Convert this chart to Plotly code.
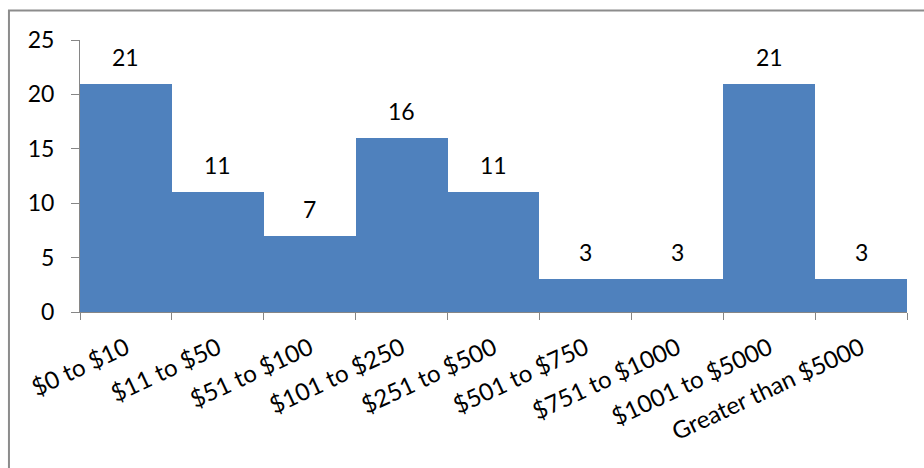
import plotly.graph_objects as go

categories = ["$0 to $10", "$11 to $50", "$51 to $100", "$101 to $250", "$251 to $500",
              "$501 to $750", "$751 to $1000", "$1001 to $5000", "Greater than $5000"]
counts = [21, 11, 7, 16, 11, 3, 3, 21, 3]
y_ticks = [0, 5, 10, 15, 20, 25]

font_family = "Lato, Open Sans, sans-serif"
axis_color = "#868686"
fs = 23

fig = go.Figure()
fig.add_trace(go.Bar(
    x=categories, y=counts,
    marker=dict(color="#4F81BD", line=dict(width=0)),
    hoverinfo="x+y",
))

for c, v in zip(categories, counts):
    fig.add_annotation(x=c, y=v, text=str(v), showarrow=False,
                       xref="x", yref="y", yanchor="bottom", yshift=11,
                       font=dict(family=font_family, size=fs, color="#000000"))

fig.update_layout(
    width=924, height=468,
    margin=dict(l=80, r=17, t=40, b=156),
    paper_bgcolor="white", plot_bgcolor="white",
    bargap=0,
    showlegend=False,
    font=dict(family=font_family, size=fs, color="#000000"),
    xaxis=dict(
        type="category",
        showgrid=False, zeroline=False,
        showline=True, linecolor=axis_color, linewidth=1,
        ticks="outside", tickson="boundaries", ticklen=7, tickcolor=axis_color,
        tickangle=-25,
        ticklabelstandoff=12,
        tickfont=dict(family=font_family, size=24, color="#000000"),
    ),
    yaxis=dict(
        range=[0, 25], tickvals=y_ticks,
        showgrid=False, zeroline=False,
        showline=True, linecolor=axis_color, linewidth=1,
        ticks="outside", ticklen=8, tickcolor=axis_color,
        ticklabelstandoff=12,
        tickfont=dict(family=font_family, size=fs, color="#000000"),
    ),
    shapes=[dict(type="rect", xref="paper", yref="paper",
                 x0=-0.0859, x1=1.2, y0=-0.7, y1=1.108,
                 line=dict(color="#8c8c8c", width=2), fillcolor="rgba(0,0,0,0)", layer="below")],
)

fig.write_html("out.html")
